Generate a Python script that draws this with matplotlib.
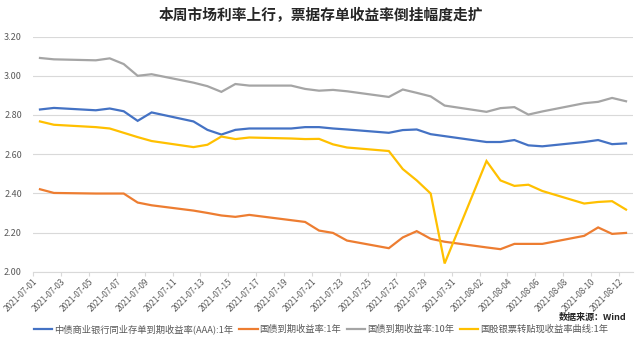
import numpy as np
import pandas as pd
import matplotlib
matplotlib.use("Agg")
import matplotlib.pyplot as plt
import matplotlib.dates as mdates

plt.rcParams['font.family'] = ['Noto Sans CJK SC', 'DejaVu Sans']

dates = ['2021-07-01', '2021-07-02', '2021-07-05', '2021-07-06', '2021-07-07', '2021-07-08',
         '2021-07-09', '2021-07-12', '2021-07-13', '2021-07-14', '2021-07-15', '2021-07-16',
         '2021-07-19', '2021-07-20', '2021-07-21', '2021-07-22', '2021-07-23', '2021-07-26',
         '2021-07-27', '2021-07-28', '2021-07-29', '2021-07-30', '2021-08-02', '2021-08-03',
         '2021-08-04', '2021-08-05', '2021-08-06', '2021-08-09', '2021-08-10', '2021-08-11',
         '2021-08-12']

ncd_1y = [2.828, 2.836, 2.824, 2.833, 2.819, 2.770, 2.813, 2.767, 2.724, 2.700, 2.724, 2.731,
          2.731, 2.738, 2.738, 2.731, 2.726, 2.709, 2.723, 2.726, 2.702, 2.692, 2.662, 2.662,
          2.672, 2.645, 2.640, 2.662, 2.672, 2.651, 2.655]
cgb_1y = [2.421, 2.402, 2.399, 2.399, 2.399, 2.353, 2.339, 2.312, 2.300, 2.287, 2.280, 2.290,
          2.263, 2.254, 2.210, 2.198, 2.159, 2.120, 2.175, 2.207, 2.168, 2.153, 2.124, 2.115,
          2.142, 2.142, 2.142, 2.183, 2.226, 2.193, 2.198]
cgb_10y = [3.091, 3.084, 3.079, 3.089, 3.060, 3.000, 3.008, 2.965, 2.947, 2.918, 2.958, 2.950,
           2.950, 2.933, 2.924, 2.928, 2.921, 2.892, 2.930, 2.913, 2.895, 2.848, 2.816, 2.835,
           2.840, 2.802, 2.818, 2.860, 2.867, 2.887, 2.870]
bill_1y = [2.767, 2.750, 2.738, 2.731, 2.709, 2.687, 2.667, 2.636, 2.648, 2.690, 2.677, 2.685,
           2.680, 2.677, 2.678, 2.650, 2.634, 2.616, 2.524, 2.466, 2.399, 2.042, 2.565, 2.466,
           2.438, 2.444, 2.412, 2.348, 2.356, 2.360, 2.317]

labels = ['中债商业银行同业存单到期收益率(AAA):1年', '国债到期收益率:1年',
          '国债到期收益率:10年', '国股银票转贴现收益率曲线:1年']
colors = ['#4472C4', '#ED7D31', '#A5A5A5', '#FFC000']

# points sit in the middle of each day on the date axis
x = pd.to_datetime(dates) + pd.Timedelta(hours=12)

fig = plt.figure(figsize=(6.42, 3.39), dpi=100)
ax = fig.add_axes([0.0514, 0.1985, 0.9346, 0.6935])

for series, lab, c in zip([ncd_1y, cgb_1y, cgb_10y, bill_1y], labels, colors):
    ax.plot(x, series, color=c, lw=1.6, label=lab, solid_joinstyle='miter')

ax.set_ylim(2.0, 3.2)
ax.set_yticks(np.arange(2.0, 3.21, 0.2))
ax.yaxis.set_major_formatter(plt.FuncFormatter(lambda v, p: f'{v:.2f}'))
ax.set_xlim(pd.Timestamp('2021-07-01'), pd.Timestamp('2021-08-13'))
ticks = pd.date_range('2021-07-01', '2021-08-12', freq='2D')
ax.set_xticks(ticks)
ax.xaxis.set_major_formatter(mdates.DateFormatter('%Y-%m-%d'))

ax.grid(axis='y', color='#D9D9D9', lw=0.8)
ax.set_axisbelow(True)
for s in ['top', 'right', 'left']:
    ax.spines[s].set_visible(False)
ax.spines['bottom'].set_color('#D9D9D9')
ax.tick_params(axis='y', length=0, labelsize=6.5, labelcolor='#595959', pad=8)
ax.tick_params(axis='x', length=3, color='#D9D9D9', labelsize=6.0, labelcolor='#595959',
               labelrotation=45, pad=1)
for t in ax.get_xticklabels():
    t.set_ha('right')
    t.set_rotation_mode('anchor')

fig.text(0.5, 0.955, '本周市场利率上行，票据存单收益率倒挂幅度走扩', ha='center', va='center',
         fontsize=10.6, fontweight='bold', color='#262626')
fig.text(0.975, 0.064, '数据来源：Wind', ha='right', va='center', fontsize=6.5,
         fontweight='bold', color='#262626')

fig.legend(loc='center', bbox_to_anchor=(0.5, 0.030), ncol=4, frameon=False,
           fontsize=6.7, handlelength=2.0, handletextpad=0.2, columnspacing=0.6,
           labelcolor='#595959')

fig.savefig('out.png', dpi=100, facecolor='white')
